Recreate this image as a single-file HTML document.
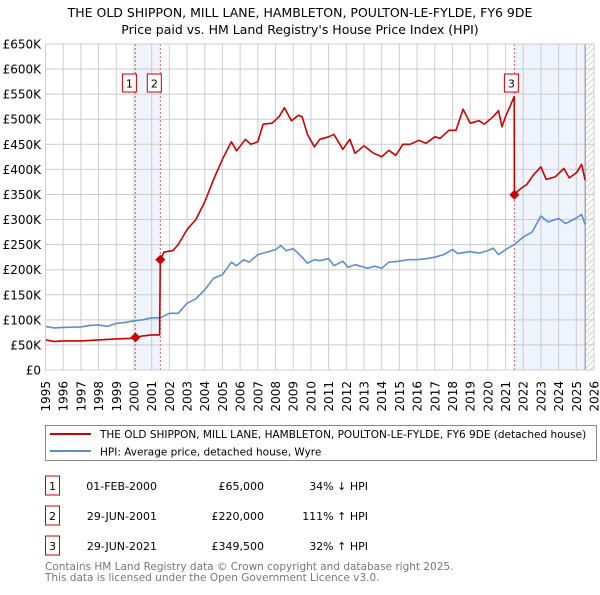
<!DOCTYPE html>
<html><head><meta charset="utf-8"><style>
body{margin:0;background:#fff;width:600px;height:590px;overflow:hidden;font-family:"Liberation Sans","DejaVu Sans",sans-serif}
svg text{font-family:"DejaVu Sans","Liberation Sans",sans-serif}
</style></head><body>
<svg id="chart" width="600" height="590"></svg>
<script>
const yTicks=[0,50,100,150,200,250,300,350,400,450,500,550,600,650];
const xTickYears=[1995,1996,1997,1998,1999,2000,2001,2002,2003,2004,2005,2006,2007,2008,2009,2010,2011,2012,2013,2014,2015,2016,2017,2018,2019,2020,2021,2022,2023,2024,2025,2026];
const hpiDates=[1995,1995.5,1996,1997,1997.5,1998,1998.5,1999,1999.5,2000,2000.5,2001,2001.5,2002,2002.5,2003,2003.5,2004,2004.5,2005,2005.5,2005.8,2006.2,2006.5,2007,2007.5,2008,2008.3,2008.6,2009,2009.5,2009.8,2010.2,2010.5,2011,2011.3,2011.8,2012.1,2012.5,2013.2,2013.6,2014,2014.4,2015,2015.5,2016,2016.5,2017,2017.5,2018,2018.3,2019,2019.5,2020,2020.3,2020.6,2021,2021.5,2022,2022.5,2023,2023.4,2024,2024.4,2025,2025.3,2025.5];
const hpiValues=[87,84,85,86,89,90,87,93,95,98,100,104,104,113,113,133,142,160,183,190,215,208,220,215,230,235,240,248,238,242,225,213,220,218,222,208,217,205,210,203,207,203,215,217,220,220,222,225,230,240,232,236,233,238,243,230,240,250,265,275,307,295,302,292,303,310,290];
const priceDates=[1995,1995.5,1996,1997,1998,1999,1999.8,2000.08,2000.5,2001,2001.45,2001.49,2001.7,2002.2,2002.5,2003,2003.5,2004,2004.5,2005,2005.5,2005.8,2006.3,2006.6,2007,2007.3,2007.8,2008.2,2008.5,2008.9,2009.3,2009.5,2009.8,2010.2,2010.5,2011,2011.3,2011.8,2012.2,2012.5,2013,2013.5,2014,2014.4,2014.8,2015.2,2015.6,2016.1,2016.5,2017,2017.3,2017.8,2018.2,2018.6,2019,2019.5,2019.8,2020.3,2020.6,2020.8,2021,2021.49,2021.5,2021.8,2022.2,2022.6,2023,2023.3,2023.8,2024.3,2024.6,2025,2025.3,2025.5];
const priceValues=[60,57,58,58,60,62,63,65,68,70,70,220,235,238,250,280,300,335,380,420,455,437,460,450,455,490,492,505,523,497,508,505,470,445,460,465,470,440,460,432,447,433,425,438,428,450,450,458,452,465,462,478,478,520,492,497,490,505,517,485,505,545,349.5,360,370,390,405,380,385,402,383,393,410,378];
const saleDates=[2000.08,2001.49,2021.5];
const saleValues=[65,220,349.5];
const saleLabels=["1","2","3"];

const NS="http://www.w3.org/2000/svg";
const svg=document.getElementById('chart');
const X0=45.5,X1=594,Y0=370,Y1=44;
const xs=y=>X0+(y-1995)*(X1-X0)/31;
const ys=v=>Y0-v*(Y0-Y1)/650;
function el(tag,attrs,parent){const e=document.createElementNS(NS,tag);for(const k in attrs)e.setAttribute(k,attrs[k]);(parent||svg).appendChild(e);return e;}
function txt(s,attrs){const t=el('text',attrs);t.textContent=s;return t;}

let t=txt("THE OLD SHIPPON, MILL LANE, HAMBLETON, POULTON-LE-FYLDE, FY6 9DE",{x:300,y:17,'text-anchor':'middle','font-size':12.5,fill:'#000'});


t=txt("Price paid vs. HM Land Registry's House Price Index (HPI)",{x:300,y:34,'text-anchor':'middle','font-size':12.5,fill:'#000'});



let r=el('rect',{x:xs(2000.08),y:Y1,width:xs(2001.49)-xs(2000.08),height:Y0-Y1,fill:'#eef3fc'});


r=el('rect',{x:xs(2021.5),y:Y1,width:xs(2025.5)-xs(2021.5),height:Y0-Y1,fill:'#eef3fc'});


const defs=el('defs',{});
const pat=el('pattern',{id:'hatch',width:6,height:6,patternUnits:'userSpaceOnUse'},defs);
el('path',{d:'M0,6 L6,0',stroke:'#ccc','stroke-width':0.8},pat);
r=el('rect',{x:xs(2025.5),y:Y1,width:X1-xs(2025.5),height:Y0-Y1,fill:'url(#hatch)'});



yTicks.forEach(v=>{
  const l=el('line',{x1:X0,x2:X1,y1:ys(v),y2:ys(v),stroke:'#ccc','stroke-width':1});
  
  
  const lb=txt(v===0?'£0':'£'+v+'K',{x:41,y:ys(v)+4.5,'text-anchor':'end','font-size':12,fill:'#000'});
  
  
});
xTickYears.forEach(y=>{
  const l=el('line',{x1:xs(y),x2:xs(y),y1:Y1,y2:Y0,stroke:'#ccc','stroke-width':1});
  
  
  const lb=txt(String(y),{x:0,y:0,'text-anchor':'end','font-size':12,fill:'#000',transform:`translate(${xs(y)+4.5},381) rotate(-90)`});
  
  
});
el('line',{x1:xs(2025.5),x2:xs(2025.5),y1:Y1,y2:Y0,stroke:'#888','stroke-width':1});

saleDates.forEach((d,i)=>{
  const l=el('line',{x1:xs(d),x2:xs(d),y1:Y1,y2:Y0,stroke:'#e06060','stroke-width':1,'stroke-dasharray':'2,2'});
  
  
});

function line(dates,vals,color,name){
  const p=el('path',{d:dates.map((d,i)=>(i?'L':'M')+xs(d).toFixed(1)+','+ys(vals[i]).toFixed(1)).join(''),fill:'none',stroke:color,'stroke-width':1.6,'stroke-linejoin':'round'});
  
  
}
line(hpiDates,hpiValues,'#5b8fd0','hpi-line');
line(priceDates,priceValues,'#cc0000','price-paid-line');

saleDates.forEach((d,i)=>{
  const cx=xs(d),cy=ys(saleValues[i]);
  const m=el('path',{d:`M${cx},${cy-5}L${cx+5},${cy}L${cx},${cy+5}L${cx-5},${cy}Z`,fill:'#cc0000'});
  
  
  const bx=(i===2?cx-4:cx-7)-6;
  const b=el('rect',{x:bx,y:74,width:14,height:18,fill:'#fff',stroke:'#cc0000','stroke-width':1});
  
  
  const tl=txt(saleLabels[i],{x:bx+7,y:87.5,'text-anchor':'middle','font-size':11,fill:'#000'});
  
  
});
el('rect',{x:X0,y:Y1,width:X1-X0,height:Y0-Y1,fill:'none',stroke:'#ccc','stroke-width':1});

const lg=el('rect',{x:45.5,y:425.5,width:551,height:35,fill:'#fff',stroke:'#888','stroke-width':1});


el('line',{x1:50,x2:91,y1:434,y2:434,stroke:'#cc0000','stroke-width':2});
el('line',{x1:50,x2:91,y1:451,y2:451,stroke:'#5b8fd0','stroke-width':2});
t=txt("THE OLD SHIPPON, MILL LANE, HAMBLETON, POULTON-LE-FYLDE, FY6 9DE (detached house)",{x:100,y:438,'font-size':10.5,fill:'#000'});


t=txt("HPI: Average price, detached house, Wyre",{x:100,y:455.5,'font-size':10.5,fill:'#000'});



const rowsDate=["01-FEB-2000","29-JUN-2001","29-JUN-2021"];
const rowsPrice=["£65,000","£220,000","£349,500"];
const rowsHpi=["34% ↓ HPI","111% ↑ HPI","32% ↑ HPI"];
[0,1,2].forEach(i=>{
  const y=476+i*30;
  const b=el('rect',{x:45.5,y:y,width:14,height:19,fill:'#fff',stroke:'#cc0000','stroke-width':1});
  
  
  txt(saleLabels[i],{x:52.5,y:y+14,'text-anchor':'middle','font-size':11,fill:'#000'});
  let c=txt(rowsDate[i],{x:157,y:y+14,'text-anchor':'end','font-size':11,fill:'#000'});
  
  
  c=txt(rowsPrice[i],{x:264,y:y+14,'text-anchor':'end','font-size':11,fill:'#000'});
  
  
  c=txt(rowsHpi[i],{x:368,y:y+14,'text-anchor':'end','font-size':11,fill:'#000'});
  
  
});
t=txt("Contains HM Land Registry data © Crown copyright and database right 2025.",{x:45,y:570,'font-size':10.5,fill:'#777'});


t=txt("This data is licensed under the Open Government Licence v3.0.",{x:45,y:581,'font-size':10.5,fill:'#777'});


</script>
</body></html>
